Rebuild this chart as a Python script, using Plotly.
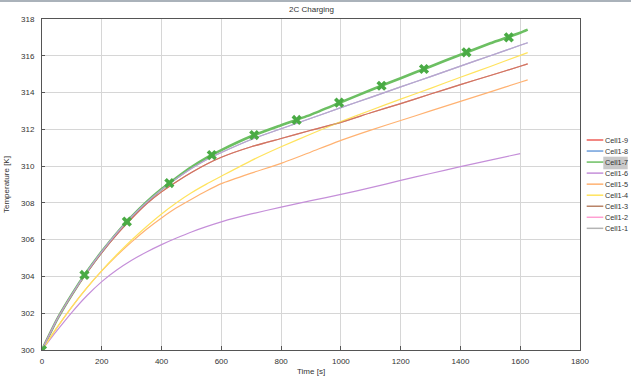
import plotly.graph_objects as go

# ---------------- data ----------------
times = [0, 50, 100, 150, 200, 250, 300, 350, 400, 450, 500, 550, 600,
         700, 800, 900, 1000, 1100, 1200, 1300, 1400, 1500, 1600, 1625]

cell1_9 = [300, 301.65, 303.0, 304.2, 305.3, 306.28, 307.15, 307.95, 308.6, 309.15, 309.65, 310.1, 310.48,
           311.05, 311.5, 311.95, 312.38, 312.9, 313.4, 313.92, 314.43, 314.93, 315.43, 315.56]
cell1_8 = [300, 301.65, 303.02, 304.25, 305.35, 306.35, 307.25, 308.03, 308.72, 309.32, 309.87, 310.35, 310.74,
           311.45, 312.03, 312.6, 313.18, 313.74, 314.31, 314.87, 315.44, 316.0, 316.57, 316.71]
cell1_7 = [300, 301.65, 303.02, 304.25, 305.35, 306.35, 307.25, 308.05, 308.75, 309.37, 309.95, 310.45, 310.87,
           311.62, 312.22, 312.8, 313.47, 314.14, 314.78, 315.42, 316.06, 316.68, 317.25, 317.42]
cell1_6 = [300, 301.05, 302.05, 302.95, 303.72, 304.35, 304.88, 305.33, 305.73, 306.09, 306.42, 306.71, 306.97,
           307.4, 307.77, 308.12, 308.46, 308.83, 309.22, 309.6, 309.97, 310.33, 310.68, None]
cell1_5 = [300, 301.22, 302.35, 303.38, 304.3, 305.13, 305.88, 306.57, 307.18, 307.73, 308.2, 308.65, 309.05,
           309.62, 310.15, 310.77, 311.4, 311.96, 312.48, 313.0, 313.52, 314.04, 314.56, 314.69]
cell1_4 = [300, 301.22, 302.35, 303.38, 304.32, 305.18, 305.98, 306.72, 307.4, 308.01, 308.55, 309.02, 309.45,
           310.3, 311.05, 311.75, 312.42, 313.04, 313.64, 314.23, 314.83, 315.42, 316.02, 316.17]
cell1_3 = [300, 301.65, 303.0, 304.2, 305.3, 306.28, 307.15, 307.95, 308.6, 309.15, 309.65, 310.1, 310.48,
           311.05, 311.5, 311.95, 312.38, 312.9, 313.4, 313.92, 314.43, 314.93, 315.43, 315.56]
cell1_2 = [300, 301.65, 303.02, 304.25, 305.35, 306.35, 307.25, 308.03, 308.72, 309.32, 309.87, 310.35, 310.74,
           311.45, 312.03, 312.6, 313.18, 313.74, 314.31, 314.87, 315.44, 316.0, 316.57, 316.71]
cell1_1 = [300, 301.65, 303.02, 304.25, 305.35, 306.35, 307.25, 308.03, 308.72, 309.32, 309.87, 310.35, 310.74,
           311.45, 312.03, 312.6, 313.18, 313.74, 314.31, 314.87, 315.44, 316.0, 316.57, 316.71]

marker_times = [0, 142, 284, 426, 568, 710, 852, 994, 1136, 1278, 1420, 1562]
cell1_7_markers = [300, 304.08, 306.98, 309.08, 310.6, 311.69, 312.51, 313.45, 314.37,
                   315.28, 316.19, 317.0]

series_names = ["Cell1-9", "Cell1-8", "Cell1-7", "Cell1-6", "Cell1-5",
                "Cell1-4", "Cell1-3", "Cell1-2", "Cell1-1"]
series_values = [cell1_9, cell1_8, cell1_7, cell1_6, cell1_5, cell1_4, cell1_3, cell1_2, cell1_1]
series_colors = ["#ee5f58", "#6f9fdc", "#6cbf62", "#c58fd9", "#ffb272",
                 "#ffe35e", "#b98468", "#ff9fd2", "#b4b4b4"]
x_ticks = [0, 200, 400, 600, 800, 1000, 1200, 1400, 1600, 1800]
y_ticks = [300, 302, 304, 306, 308, 310, 312, 314, 316, 318]

FONT = "Liberation Sans, Arial, sans-serif"
W, H = 631, 378
L, R, T, B = 42, 51, 19, 28
PW, PH = W - L - R, H - T - B

fig = go.Figure()

# draw order: green thick first, others over it
order = [2, 0, 3, 4, 5, 6, 1, 7, 8]
opac = {0: 1.0, 1: 1.0, 2: 1.0, 3: 1.0, 4: 1.0, 5: 1.0, 6: 0.6, 7: 0.55, 8: 0.3}
for i in order:
    fig.add_trace(go.Scatter(
        x=times, y=series_values[i], mode="lines", name=series_names[i],
        line=dict(color=series_colors[i], width=2.6 if i == 2 else 1.2,
                  shape="spline", smoothing=0.5),
        opacity=opac[i], showlegend=False, hoverinfo="skip"))

fig.add_trace(go.Scatter(
    x=marker_times, y=cell1_7_markers, mode="markers", name="Cell1-7",
    marker=dict(symbol="x", size=9, color="#4aab45", line=dict(width=0)),
    showlegend=False, hoverinfo="skip"))

axis_common = dict(showline=True, mirror=True, linecolor="#555555", linewidth=1,
                   showgrid=True, gridcolor="#d6d6d6", gridwidth=1, zeroline=False,
                   ticks="inside", tickcolor="#555555",
                   tickfont=dict(family=FONT, size=8, color="#333333"))

fig.update_xaxes(range=[0, 1800], tickvals=x_ticks, ticklen=4, ticklabelstandoff=3, **axis_common)
fig.update_yaxes(range=[300, 318], tickvals=y_ticks, ticklen=3, ticklabelstandoff=5, **axis_common)

def px_to_paper_x(px):
    return (px - L) / PW

def py_to_paper_y(py):
    return 1 - (py - T) / PH

shapes = []
annotations = []

# top window frame strip
shapes.append(dict(type="rect", xref="paper", yref="paper",
                   x0=px_to_paper_x(0), x1=px_to_paper_x(W),
                   y0=py_to_paper_y(2), y1=py_to_paper_y(0),
                   fillcolor="#aab2ba", line=dict(width=0), layer="above"))

# manual legend
for k, name in enumerate(series_names):
    yc = 140 + 11.04 * k
    if name == "Cell1-7":
        shapes.append(dict(type="rect", xref="paper", yref="paper",
                           x0=px_to_paper_x(603.3), x1=px_to_paper_x(627.7),
                           y0=py_to_paper_y(169.3), y1=py_to_paper_y(156.7),
                           fillcolor="#c9c9c9", line=dict(width=0), layer="below"))
    shapes.append(dict(type="line", xref="paper", yref="paper",
                       x0=px_to_paper_x(586.7), x1=px_to_paper_x(603.3),
                       y0=py_to_paper_y(yc), y1=py_to_paper_y(yc),
                       line=dict(color=series_colors[k], width=1.5)))
    annotations.append(dict(text=name, xref="paper", yref="paper",
                            x=px_to_paper_x(603), y=py_to_paper_y(yc),
                            xanchor="left", yanchor="middle", showarrow=False,
                            font=dict(family=FONT, size=7.3, color="#333333")))

# titles
annotations.append(dict(text="2C Charging", xref="paper", yref="paper",
                        x=px_to_paper_x(311), y=py_to_paper_y(9.5),
                        xanchor="center", yanchor="middle", showarrow=False,
                        font=dict(family=FONT, size=8, color="#333333")))
annotations.append(dict(text="Time [s]", xref="paper", yref="paper",
                        x=px_to_paper_x(311), y=py_to_paper_y(372),
                        xanchor="center", yanchor="middle", showarrow=False,
                        font=dict(family=FONT, size=8, color="#333333")))
annotations.append(dict(text="Temperature [K]", xref="paper", yref="paper",
                        x=px_to_paper_x(6), y=py_to_paper_y(185),
                        xanchor="center", yanchor="middle", showarrow=False, textangle=-90,
                        font=dict(family=FONT, size=8, color="#333333")))

fig.update_layout(
    width=W, height=H, margin=dict(l=L, r=R, t=T, b=B, pad=0),
    paper_bgcolor="white", plot_bgcolor="white",
    shapes=shapes, annotations=annotations, showlegend=False,
)

fig.write_html("out.html")
